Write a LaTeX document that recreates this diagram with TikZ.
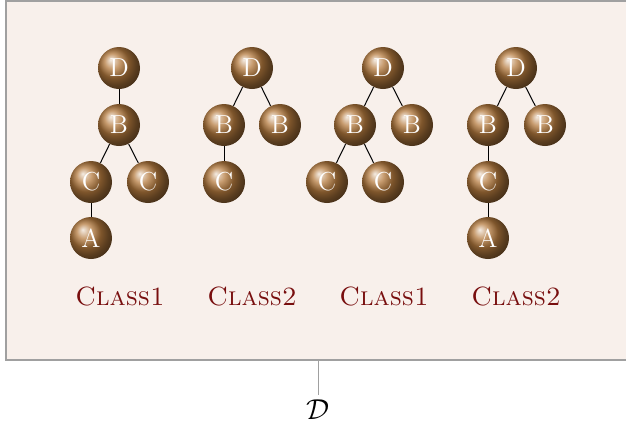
\documentclass[tikz,border=0pt]{standalone}
\usepackage{tikz}
\definecolor{panelfill}{RGB}{248,240,235}
\definecolor{panelline}{RGB}{160,160,160}
\definecolor{labelred}{RGB}{120,14,14}
\definecolor{ballbrown}{RGB}{180,122,62}
\tikzset{
  ball/.style={circle, shading=ball, ball color=ballbrown, minimum size=21pt,
    inner sep=0pt, text=white, font=\fontsize{13}{13}\selectfont},
  classlabel/.style={text=labelred, font=\fontsize{13.2}{13.2}\selectfont\scshape},
  edge/.style={draw=black, line width=0.5pt},
}
\begin{document}
\begin{tikzpicture}[x=0.5pt, y=-0.5pt]
\clip (0,0) rectangle (626,429);
% panel
\draw[fill=panelfill, draw=panelline, line width=0.6pt] (6,1) rectangle (650,360);
\coordinate (panelbottom) at (318,360);
\node[font=\fontsize{14}{14}\selectfont] (dlabel) at (318,410) {$\mathcal{D}$};
\draw[draw=panelline, line width=0.5pt] (panelbottom) -- (318,395);

% tree 1
\node[ball] (t1d) at (119,68) {D};
\node[ball] (t1b) at (119,125) {B};
\node[ball] (t1c1) at (91,182) {C};
\node[ball] (t1c2) at (148,182) {C};
\node[ball] (t1a) at (91,238) {A};
\draw[edge] (t1d) -- (t1b);
\draw[edge] (t1b) -- (t1c1);
\draw[edge] (t1b) -- (t1c2);
\draw[edge] (t1c1) -- (t1a);

% tree 2
\node[ball] (t2d) at (252,68) {D};
\node[ball] (t2b1) at (224,125) {B};
\node[ball] (t2b2) at (280,125) {B};
\node[ball] (t2c) at (224,182) {C};
\draw[edge] (t2d) -- (t2b1);
\draw[edge] (t2d) -- (t2b2);
\draw[edge] (t2b1) -- (t2c);

% tree 3
\node[ball] (t3d) at (383,68) {D};
\node[ball] (t3b1) at (355,125) {B};
\node[ball] (t3b2) at (412,125) {B};
\node[ball] (t3c1) at (327,182) {C};
\node[ball] (t3c2) at (383,182) {C};
\draw[edge] (t3d) -- (t3b1);
\draw[edge] (t3d) -- (t3b2);
\draw[edge] (t3b1) -- (t3c1);
\draw[edge] (t3b1) -- (t3c2);

% tree 4
\node[ball] (t4d) at (516,68) {D};
\node[ball] (t4b1) at (488,125) {B};
\node[ball] (t4b2) at (545,125) {B};
\node[ball] (t4c) at (488,182) {C};
\node[ball] (t4a) at (488,238) {A};
\draw[edge] (t4d) -- (t4b1);
\draw[edge] (t4d) -- (t4b2);
\draw[edge] (t4b1) -- (t4c);
\draw[edge] (t4c) -- (t4a);

% class labels
\node[classlabel] (l1) at (120,296) {Class1};
\node[classlabel] (l2) at (252,296) {Class2};
\node[classlabel] (l3) at (384,296) {Class1};
\node[classlabel] (l4) at (516,296) {Class2};
\end{tikzpicture}
\end{document}
